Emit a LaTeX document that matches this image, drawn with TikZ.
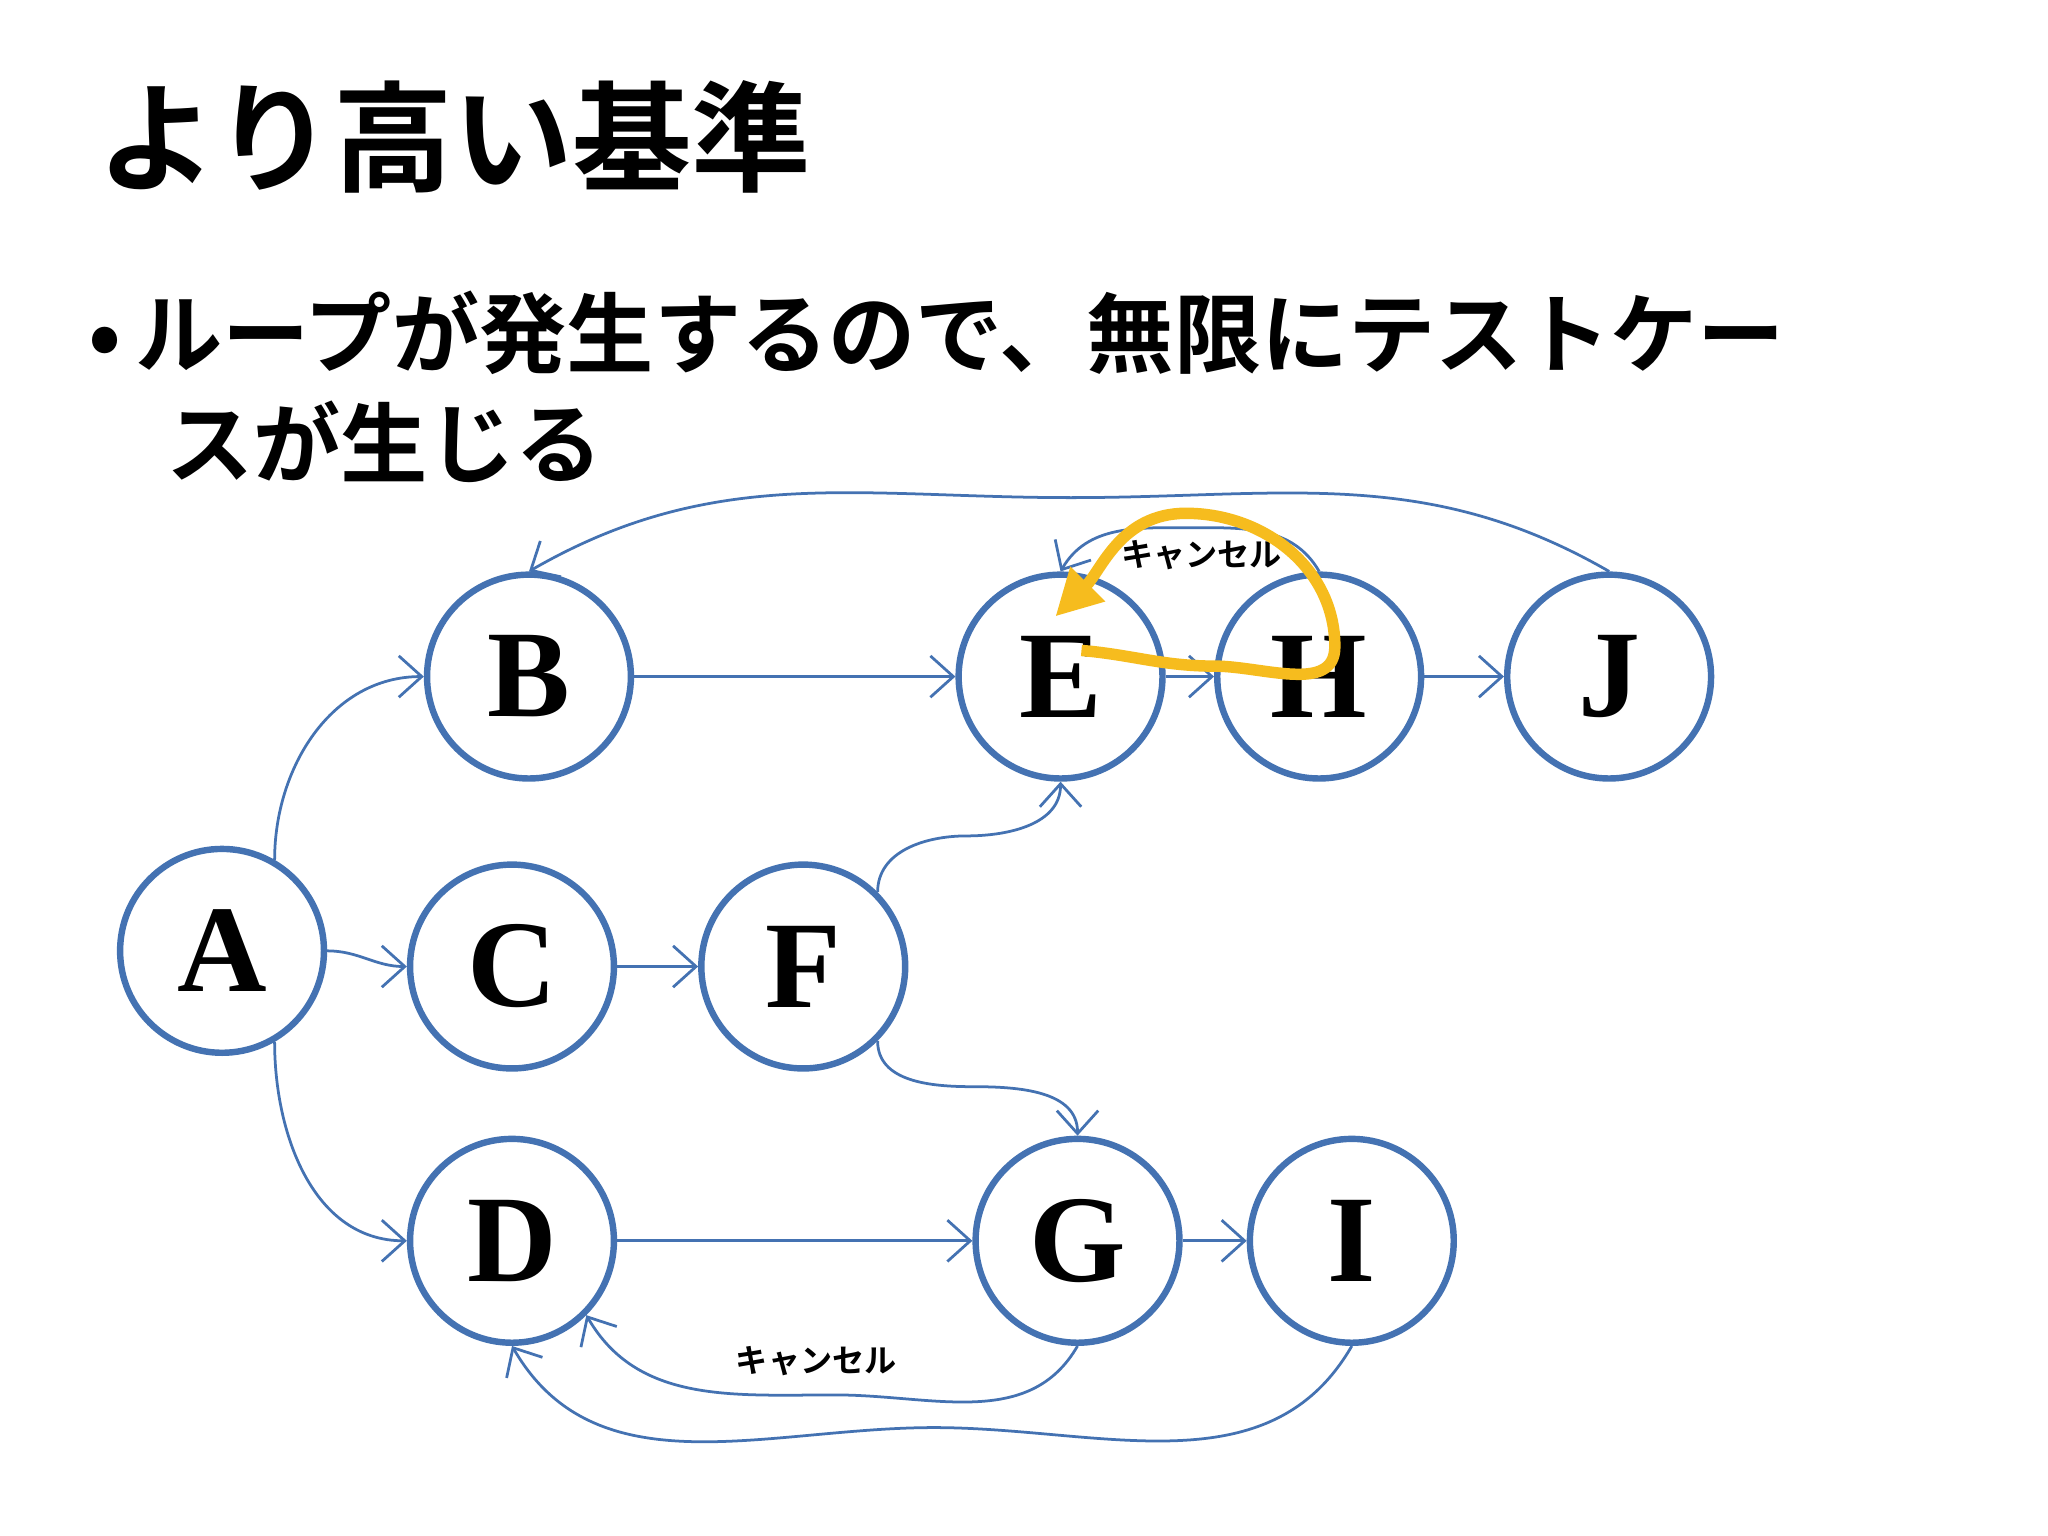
\documentclass[tikz,border=0pt]{standalone}
\usepackage{fontspec}
\setmainfont{Liberation Serif}
\newfontfamily\jp[BoldFont={* Bold}]{Noto Sans CJK JP}
\usetikzlibrary{arrows.meta}
\definecolor{nb}{RGB}{68,114,178}
\definecolor{og}{RGB}{246,188,30}
\tikzset{
 st/.style={circle,draw=nb,line width=1.4pt,minimum size=1.56cm,inner sep=0pt,font=\fontsize{27}{27}\selectfont\bfseries},
 ed/.style={draw=nb,line width=0.6pt,-{Straight Barb[length=5pt,width=9pt]}},
 lb/.style={font=\jp\bfseries\fontsize{7}{7}\selectfont}
}
\begin{document}
\begin{tikzpicture}[x=0.01cm,y=-0.01cm]
\useasboundingbox[fill=white] (0,0) rectangle (1568,1176);
\node[anchor=west,font=\jp\bfseries\fontsize{26}{26}\selectfont] (t) at (62,105) {より高い基準};
\node[anchor=west,font=\jp\bfseries\fontsize{19}{19}\selectfont] (b1) at (55,255) {•\,ループが発生するので、無限にテストケー};
\node[anchor=west,font=\jp\bfseries\fontsize{19}{19}\selectfont] (b2) at (115,338) {スが生じる};
\node[st] (A) at (170,728) {A};
\node[st] (B) at (405,518) {B};
\node[st] (C) at (392,740) {C};
\node[st] (D) at (392,950) {D};
\node[st] (E) at (812,518) {E};
\node[st] (F) at (615,740) {F};
\node[st] (G) at (825,950) {G};
\node[st] (H) at (1010,518) {H};
\node[st] (I) at (1035,950) {I};
\node[st] (J) at (1232,518) {J};
\draw[ed] (A.60) to[out=90,in=180] (B.west);
\draw[ed] (A.east) to[out=0,in=180] (C.west);
\draw[ed] (A.-60) to[out=-90,in=180] (D.west);
\draw[ed] (B) -- (E);
\draw[ed] (C) -- (F);
\draw[ed] (F.45) to[out=90,in=180] (740,640) to[out=0,in=-90] (E.south);
\draw[ed] (F.-45) to[out=-90,in=180] (745,832) to[out=0,in=90] (G.north);
\draw[ed] (D) -- (G);
\draw[ed] (G) -- (I);
\draw[ed] (E) -- (H);
\draw[ed] (H) -- (J);
\draw[ed] (J.north) to[out=150,in=0] (820,381) to[out=180,in=30] (B.north);
\draw[ed] (H.north) to[out=120,in=0] (912,404) to[out=180,in=60] (E.north);
\node[lb] (l1) at (920,425) {キャンセル};
\draw[ed] (G.south) to[out=-120,in=0] (640,1068) to[out=180,in=-60] (D.-45);
\node[lb] (l2) at (625,1042) {キャンセル};
\draw[ed] (I.south) to[out=-120,in=0] (715,1093) to[out=180,in=-60] (D.south);
\draw[og,line width=2.5pt,-{Triangle[length=10pt,width=10pt]}] (828,498) to[out=-5,in=180] (930,510) to[out=0,in=-90] (1022,495) to[out=90,in=0] (908,393) to[out=180,in=45] (808,472);
\end{tikzpicture}
\end{document}
